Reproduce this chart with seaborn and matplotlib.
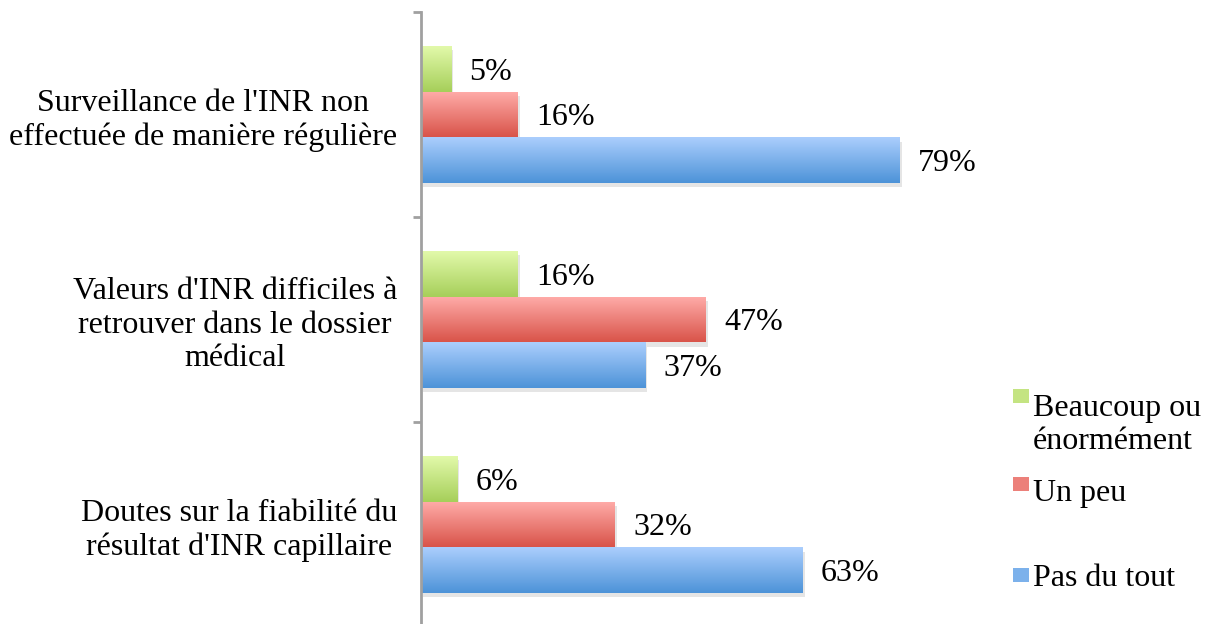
import matplotlib
matplotlib.use("Agg")
import matplotlib.pyplot as plt
import matplotlib.patheffects as pe
from matplotlib.colors import to_rgb
from matplotlib.patches import Rectangle
import numpy as np
import pandas as pd
import seaborn as sns

CATEGORIES = [
    "Surveillance de l'INR non\neffectuée de manière régulière",
    "Valeurs d'INR difficiles à\nretrouver dans le dossier\nmédical",
    "Doutes sur la fiabilité du\nrésultat d'INR capillaire",
]
SERIES = ["Beaucoup ou\nénormément", "Un peu", "Pas du tout"]
BEAUCOUP = [5, 16, 6]
UN_PEU = [16, 47, 32]
PAS_DU_TOUT = [79, 37, 63]

# gradient colours (top, bottom) per series
GRAD = {
    SERIES[0]: ("#e2f9aa", "#a6cf5a"),
    SERIES[1]: ("#ffaca9", "#d9544a"),
    SERIES[2]: ("#abcefd", "#4d93d8"),
}

df = pd.DataFrame({
    "cat": CATEGORIES * 3,
    "serie": [SERIES[0]] * 3 + [SERIES[1]] * 3 + [SERIES[2]] * 3,
    "val": BEAUCOUP + UN_PEU + PAS_DU_TOUT,
})

sns.set_theme(style="white")
plt.rcParams["font.family"] = ["Liberation Serif", "DejaVu Serif"]
plt.rcParams["text.color"] = "black"
plt.rcParams["ytick.labelcolor"] = "black"

W, H = 1211, 624
fig = plt.figure(figsize=(W / 100, H / 100), dpi=100)
XMAX = 95
ax_left, ax_top, slot = 421, 12, 205
ax_w = 6.06 * XMAX
ax = fig.add_axes([ax_left / W, (H - ax_top - 3 * slot) / H, ax_w / W, 3 * slot / H])

palette = {s: GRAD[s][1] for s in SERIES}
sns.barplot(data=df, x="val", y="cat", hue="serie", order=CATEGORIES,
            hue_order=SERIES, palette=palette, orient="h", width=0.67,
            saturation=1, legend=False, ax=ax)

# gradient fill + soft shadow
for cont, s in zip(ax.containers, SERIES):
    top, bot = np.array(to_rgb(GRAD[s][0])), np.array(to_rgb(GRAD[s][1]))
    grad = np.linspace(0, 1, 64)[:, None, None] * (bot - top) + top
    for p in cont:
        p.set_edgecolor("none")
        p.set_path_effects([pe.SimplePatchShadow(offset=(1.5, -3), shadow_rgbFace="#000000", alpha=0.1), pe.Normal()])
        x0, y0, w, h = p.get_x(), p.get_y(), p.get_width(), p.get_height()
        im = ax.imshow(grad, extent=(x0, x0 + w, y0 + h, y0), origin="upper",
                       aspect="auto", zorder=p.get_zorder() + 0.1)
        im.set_clip_path(p)
    labels = ax.bar_label(cont, labels=[f"{int(v)}%" for v in cont.datavalues],
                          padding=13, fontsize=23, color="black")
    for t in labels:
        t.xyann = (t.xyann[0], t.xyann[1] - 2.5)

ax.set_xlim(0, XMAX)
ax.set_ylim(2.5, -0.5)
ax.set_xlabel("")
ax.set_ylabel("")
ax.set_xticks([])
for side in ["top", "right", "bottom"]:
    ax.spines[side].set_visible(False)
ax.spines["left"].set_color("#a0a0a0")
ax.spines["left"].set_linewidth(2)

ax.set_yticks(range(len(CATEGORIES)))
ax.set_yticklabels(CATEGORIES, fontsize=23, multialignment="center", color="black")
ax.set_yticks([-0.5, 0.5, 1.5, 2.5], minor=True)
ax.tick_params(axis="y", which="major", length=0, pad=17)
ax.tick_params(axis="y", which="minor", length=6, width=2, color="#a0a0a0", direction="out", left=True)

# legend
leg_y = [(396, 425), (484, 493), (575, 579)]
for s, (sq_y, txt_y) in zip(SERIES, leg_y):
    top, bot = np.array(to_rgb(GRAD[s][0])), np.array(to_rgb(GRAD[s][1]))
    fig.patches.append(Rectangle((1013 / W, (H - sq_y - 7) / H), 16 / W, 14 / H,
                                 transform=fig.transFigure, facecolor=(top + bot) / 2,
                                 edgecolor="none"))
    fig.text(1033 / W, (H - txt_y) / H, s, fontsize=23, va="center", ha="left",
             multialignment="left", color="black")

fig.savefig("out.png", dpi=100)
